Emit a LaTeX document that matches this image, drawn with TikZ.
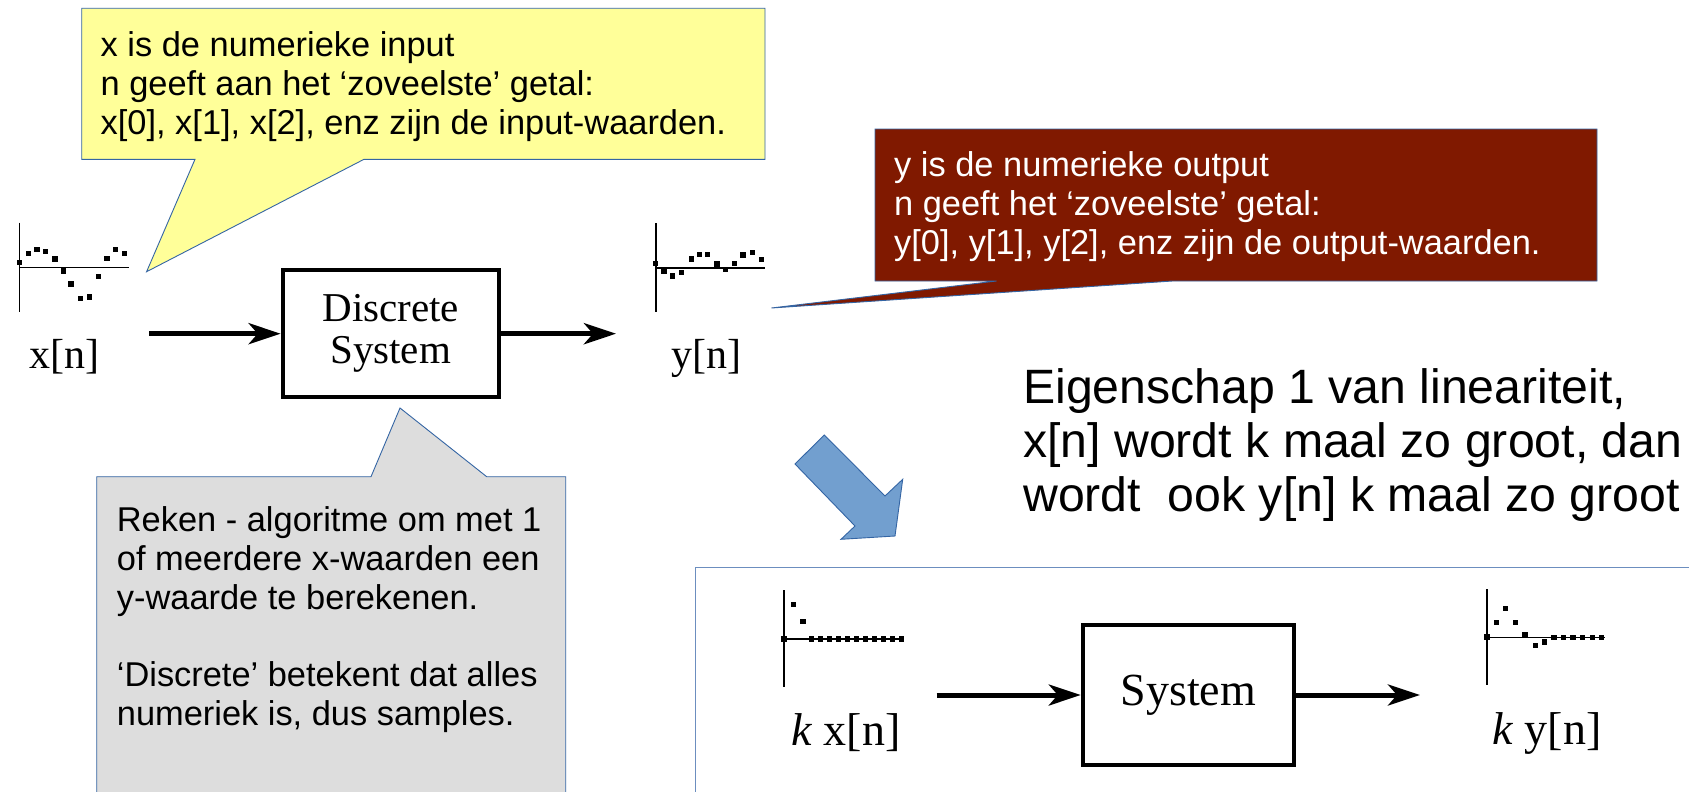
\documentclass[tikz,border=0pt]{standalone}
\usepackage{fontspec}
\setmainfont{Liberation Serif}
\newfontfamily\arialfont{Liberation Sans}
\usetikzlibrary{arrows.meta}
\definecolor{calloutyellow}{HTML}{FFFF99}
\definecolor{calloutborder}{HTML}{3465A4}
\definecolor{calloutgray}{HTML}{DDDDDD}
\definecolor{calloutred}{HTML}{801900}
\definecolor{arrowblue}{HTML}{729FCF}
\definecolor{frameblue}{HTML}{6C8EBF}
\begin{document}
\begin{tikzpicture}[x=1pt,y=-1pt,
  callout/.style={draw=calloutborder, line width=0.9pt, line join=miter},
  calltext/.style={font=\arialfont\fontsize{34.4}{38.7}\selectfont, align=left, anchor=base west, inner sep=0pt},
  bigtext/.style={font=\arialfont\fontsize{48.2}{54}\selectfont, align=left, anchor=base west, inner sep=0pt},
  sysbox/.style={draw, line width=4pt, inner sep=0pt, align=center},
  sig/.style={line width=5pt, -{Stealth[length=32pt,width=21pt,inset=9pt]}},
  axisline/.style={line width=1.6pt},
  sample/.style={fill=black},
  siglabel/.style={anchor=base, inner sep=0pt},
]
\clip (0,0) rectangle (1689,792);
\fill[white] (0,0) rectangle (1689,792);

% ---------- top diagram ----------
\node[sysbox, minimum width=216pt, minimum height=126.7pt,
      font=\fontsize{41}{42.3}\selectfont] (dsys) at (390.7,333.7) {\raisebox{-3pt}{\begin{tabular}{@{}c@{}}Discrete\\[-0.6pt]System\end{tabular}}};
\coordinate (xin) at (149,333.7);
\coordinate (yout) at (616,333.7);
\draw[sig] (xin) -- (dsys.west);
\draw[sig] (dsys.east) -- (yout);

\node[siglabel, font=\fontsize{42}{46}\selectfont] (xlab) at (64,368) {x[n]};
\node[siglabel, font=\fontsize{42}{46}\selectfont] (ylab) at (706.5,368) {y[n]};

% x[n] plot
\draw[axisline] (19.3,222.7) -- (19.3,311.7);
\draw[axisline] (19.3,267.3) -- (129.3,267.3);
\foreach \px/\py in {19.3/262.3, 28.3/253.7, 37/249.7, 45.7/251.3, 55/259, 63.3/271,
  71/284, 80.3/298.7, 89.3/297, 98.7/276.3, 107/258.3, 115.7/249.3, 124.3/253.7}
  \fill[sample] (\px-2.7,\py-2.7) rectangle (\px+2.7,\py+2.7);

% y[n] plot
\draw[axisline] (655.7,223.3) -- (655.7,311.7);
\draw[axisline] (655.7,267.7) -- (765,267.7);
\foreach \px/\py in {655.7/263.3, 664/271.7, 672.3/276, 681.7/272.3, 691.3/259, 699.3/254.3,
  707.7/254.3, 717/264, 725.7/269.3, 734.3/263.3, 743/255, 752.3/252.7, 761.7/259.7}
  \fill[sample] (\px-2.7,\py-2.7) rectangle (\px+2.7,\py+2.7);

% ---------- callouts ----------
\filldraw[callout, fill=calloutyellow] (81.7,8.3) -- (765,8.3) -- (765,159.3) -- (364,159.3)
  -- (146.6,271.7) -- (195,159.3) -- (81.7,159.3) -- cycle;
\node[calltext] (ytext) at (100.5,134.1) {x is de numerieke input\\n geeft aan het ‘zoveelste’ getal:\\x[0], x[1], x[2], enz zijn de input-waarden.};

\filldraw[callout, fill=calloutred] (875,129) -- (1597,129) -- (1597,281) -- (1172.6,281)
  -- (771.5,308) -- (996.6,281) -- (875,281) -- cycle;
\node[calltext, text=white] (rtext) at (894,254.1) {y is de numerieke output\\n geeft het ‘zoveelste’ getal:\\y[0], y[1], y[2], enz zijn de output-waarden.};

\filldraw[callout, fill=calloutgray] (96.7,476.7) -- (371,476.7) -- (400,408) -- (486.7,476.7)
  -- (565.7,476.7) -- (565.7,800) -- (96.7,800) -- cycle;
\node[calltext] (gtext) at (116.7,725.2) {Reken - algoritme om met 1\\of meerdere x-waarden een\\y-waarde te berekenen.\\[38.7pt]‘Discrete’ betekent dat alles\\numeriek is, dus samples.};

% ---------- property text ----------
\node[bigtext] (prop) at (1023,511) {Eigenschap 1 van lineariteit,\\x[n] wordt k maal zo groot, dan\\wordt~ ook y[n] k maal zo groot};

% ---------- blue arrow ----------
\filldraw[draw=calloutborder, line width=0.9pt, fill=arrowblue, line join=miter]
  (824.3,435) -- (885,496) -- (902.7,479.3) -- (895,536) -- (841,539.3) -- (855,526) -- (795,464) -- cycle;

% ---------- bottom frame and diagram ----------
\draw[draw=frameblue, line width=1pt] (695,567) rectangle (1720,820);

\node[sysbox, minimum width=211pt, minimum height=140.6pt,
      font=\fontsize{46}{50}\selectfont] (sys) at (1188.3,695) {\raisebox{-2.5pt}{System}};
\coordinate (kxin) at (936.7,695);
\coordinate (kyout) at (1420,695);
\draw[sig] (kxin) -- (sys.west);
\draw[sig] (sys.east) -- (kyout);

\node[siglabel, font=\fontsize{46}{50}\selectfont] (kxlab) at (846,745) {\textit{k} x[n]};
\node[siglabel, font=\fontsize{46}{50}\selectfont] (kylab) at (1546.7,744) {\textit{k} y[n]};

% k x[n] plot
\draw[axisline] (784,590) -- (784,686.7);
\draw[axisline] (784,639) -- (903.3,639);
\foreach \px/\py in {784/639, 793.3/604.3, 803/621.7, 811.2/639, 820.2/639, 829.3/639, 838.3/639,
  847.4/639, 856.5/639, 865.5/639, 874.6/639, 883.6/639, 892.7/639, 901.5/639}
  \fill[sample] (\px-2.7,\py-2.7) rectangle (\px+2.7,\py+2.7);

% k y[n] plot
\draw[axisline] (1487,589.3) -- (1487,685);
\draw[axisline] (1487,637.3) -- (1605,637.3);
\foreach \px/\py in {1487/637, 1496.7/622.7, 1505.3/608.7, 1515.7/622.7, 1525/634.3,
  1535.3/645.7, 1544.7/642, 1554/637.3, 1563.3/637.3, 1573/637.3, 1582.7/637.3,
  1592.3/637.3, 1601.7/637.3}
  \fill[sample] (\px-2.7,\py-2.7) rectangle (\px+2.7,\py+2.7);
\end{tikzpicture}
\end{document}
